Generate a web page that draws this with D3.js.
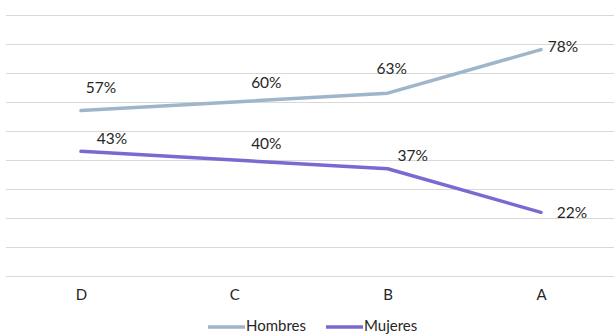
<!DOCTYPE html>
<html><head><meta charset="utf-8">
<script src="https://cdn.jsdelivr.net/npm/d3@7"></script>
<style>html,body{margin:0;padding:0;background:#fff;overflow:hidden}svg{display:block}</style>
</head><body>
<script>
const categories = ["D", "C", "B", "A"];
const hombres = [57, 60, 63, 78];
const mujeres = [43, 40, 37, 22];
const seriesNames = ["Hombres", "Mujeres"];
const yTicks = [0, 10, 20, 30, 40, 50, 60, 70, 80, 90];

const W = 614, H = 335;
const colors = ["#9fb5c9", "#7c68d0"];
const font = "Lato, 'Open Sans', sans-serif";
const textColor = "#262626";
// manual label offsets (dx, dy) like the original layout
const labelOffsets = [
  [[20,-23],[32,-19],[4,-25],[22,-3]],
  [[31,-13],[32,-16],[25,-13],[31,0]]
];

const svg = d3.select("body").append("svg").attr("width", W).attr("height", H);

const x = d3.scalePoint().domain(categories).range([81, 541]);
const y = d3.scaleLinear().domain([0, 90]).range([276.3, 14.7]);

// gridlines
svg.append("g").selectAll("line").data(yTicks).join("line")
  .attr("x1", 6).attr("x2", W)
  .attr("y1", d => Math.round(y(d)) + 0.5).attr("y2", d => Math.round(y(d)) + 0.5)
  .attr("stroke", "#d9d9d9").attr("stroke-width", 1);

// x axis labels
const xAxis = d3.axisBottom(x).tickSize(0).tickPadding(0);
const gx = svg.append("g").attr("transform", "translate(0,289)").call(xAxis);
gx.select(".domain").remove();
gx.selectAll("text").attr("font-family", font).attr("font-size", 15).attr("fill", textColor);

const series = [hombres, mujeres];
const line = d3.line().x((d, i) => x(categories[i])).y(d => y(d));

series.forEach((vals, s) => {
  svg.append("path").datum(vals)
    .attr("d", line).attr("fill", "none")
    .attr("stroke", colors[s]).attr("stroke-width", 3.5)
    .attr("stroke-linejoin", "round").attr("stroke-linecap", "round");
  svg.append("g").selectAll("text").data(vals).join("text")
    .attr("x", (d, i) => x(categories[i]) + labelOffsets[s][i][0])
    .attr("y", (d, i) => y(d) + labelOffsets[s][i][1])
    .attr("dy", "0.35em")
    .attr("text-anchor", "middle")
    .attr("font-family", font).attr("font-size", 15.5).attr("fill", textColor)
    .text(d => d + "%");
});

// legend
const legend = [[208, 246], [326, 364]];
seriesNames.forEach((name, s) => {
  svg.append("line").attr("x1", legend[s][0]).attr("x2", legend[s][1] - 1)
    .attr("y1", 327).attr("y2", 327)
    .attr("stroke", colors[s]).attr("stroke-width", 3.5);
  svg.append("text").attr("x", legend[s][1]).attr("y", 331)
    .attr("font-family", font).attr("font-size", 15).attr("fill", textColor)
    .text(name);
});
</script>
</body></html>
